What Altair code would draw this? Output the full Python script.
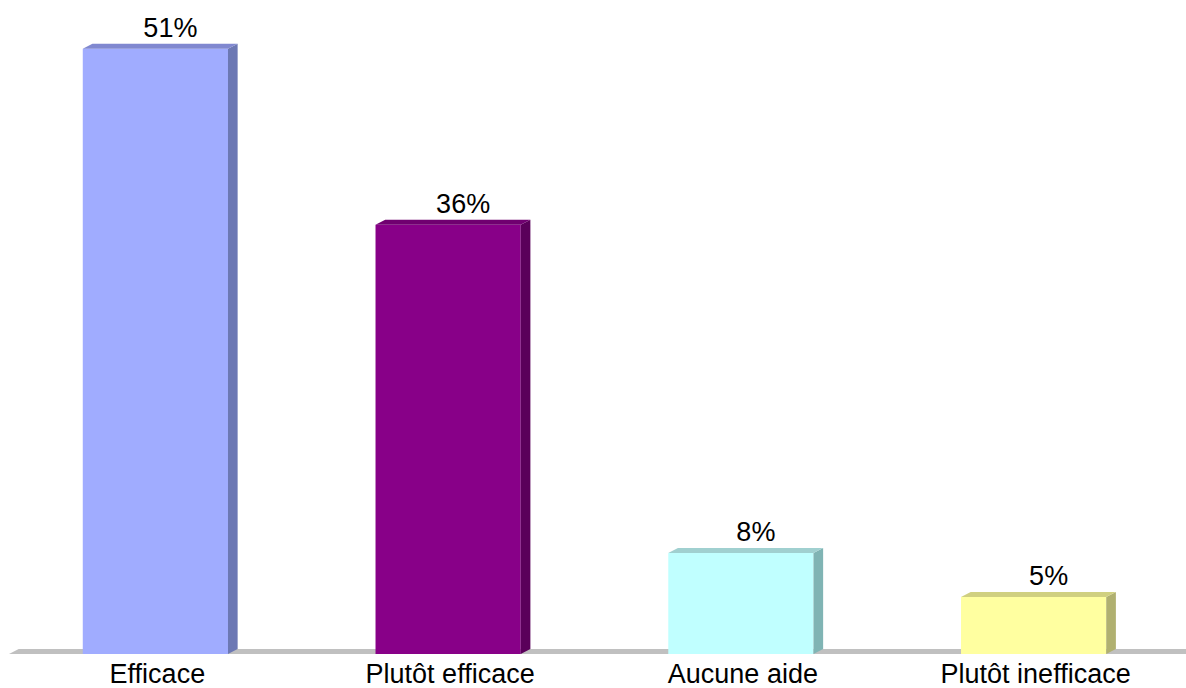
import altair as alt
import pandas as pd

# ---- data ----
categories = ["Efficace", "Plutôt efficace", "Aucune aide", "Plutôt inefficace"]
values = [50.9, 36.1, 8.5, 4.8]
value_labels = ["51%", "36%", "8%", "5%"]

# ---- style ----
front_colors = ["#a0acff", "#880088", "#c0ffff", "#ffffa0"]
side_colors = ["#6c78b4", "#5a005a", "#80b4b4", "#b0b070"]
top_colors = ["#8088d0", "#700070", "#a0d0d0", "#d0d080"]
floor_color = "#c0c0c0"
HALF = 0.248   # half bar width (x units)
DX = 0.033     # 3D depth, x units
DY = 0.42      # 3D depth, y units

front_rows, side_rows, top_rows, label_rows = [], [], [], []
for i, (c, v, lab) in enumerate(zip(categories, values, value_labels)):
    lo, hi = i - HALF, i + HALF
    front_rows.append({"x": lo, "x2": hi, "y": v, "y2": 0, "col": front_colors[i], "key": c})
    side_rows += [
        {"x": hi, "y": v, "y2": 0, "col": side_colors[i], "key": c},
        {"x": hi + DX, "y": v + DY, "y2": DY, "col": side_colors[i], "key": c},
    ]
    top_rows += [
        {"x": lo, "y": v, "y2": v, "col": top_colors[i], "key": c},
        {"x": lo + DX, "y": v + DY, "y2": v, "col": top_colors[i], "key": c},
        {"x": hi, "y": v + DY, "y2": v, "col": top_colors[i], "key": c},
        {"x": hi + DX, "y": v + DY, "y2": v + DY, "col": top_colors[i], "key": c},
    ]
    label_rows.append({"x": i, "y": v, "zero": 0, "lab": lab, "cat": c})

floor_rows = [
    {"x": -0.5, "y": 0, "y2": 0, "key": "floor"},
    {"x": -0.5 + DX, "y": DY, "y2": 0, "key": "floor"},
    {"x": 3.6, "y": DY, "y2": 0, "key": "floor"},
]

xs = alt.Scale(domain=[-0.5, 3.5], nice=False, zero=False)
ys = alt.Scale(domain=[0, 55], nice=False, zero=False)
X = alt.X("x:Q", scale=xs, axis=None)
Y = alt.Y("y:Q", scale=ys, axis=None)

floor = alt.Chart(pd.DataFrame(floor_rows)).mark_area(
    color=floor_color, interpolate="linear", orient="vertical"
).encode(x=X, y=Y, y2="y2:Q", detail="key:N")

front = alt.Chart(pd.DataFrame(front_rows)).mark_rect().encode(
    x=X, x2="x2:Q", y=Y, y2="y2:Q", color=alt.Color("col:N", scale=None)
)

side = alt.Chart(pd.DataFrame(side_rows)).mark_area(
    interpolate="linear", orient="vertical"
).encode(x=X, y=Y, y2="y2:Q", detail="key:N", color=alt.Color("col:N", scale=None))

top = alt.Chart(pd.DataFrame(top_rows)).mark_area(
    interpolate="linear", orient="vertical"
).encode(x=X, y=Y, y2="y2:Q", detail="key:N", color=alt.Color("col:N", scale=None))

ldf = pd.DataFrame(label_rows)
val_text = alt.Chart(ldf).mark_text(
    font="Liberation Sans", fontSize=27, color="black", baseline="alphabetic", dx=15, dy=-12
).encode(x=X, y=Y, text="lab:N")

cat_text = alt.Chart(ldf).mark_text(
    font="Liberation Sans", fontSize=27, color="black", baseline="alphabetic", dx=2, dy=29
).encode(x=X, y=alt.Y("zero:Q", scale=ys, axis=None), text="cat:N")

chart = alt.layer(floor, front, side, top, val_text, cat_text).properties(
    width=1171, height=654,
    autosize=alt.AutoSizeParams(type="none"),
    padding={"left": 9, "top": 0, "right": 6, "bottom": 34},
    background="white",
).configure_view(stroke=None)

chart.save("out.html", embed_options={"renderer": "svg", "actions": False})
